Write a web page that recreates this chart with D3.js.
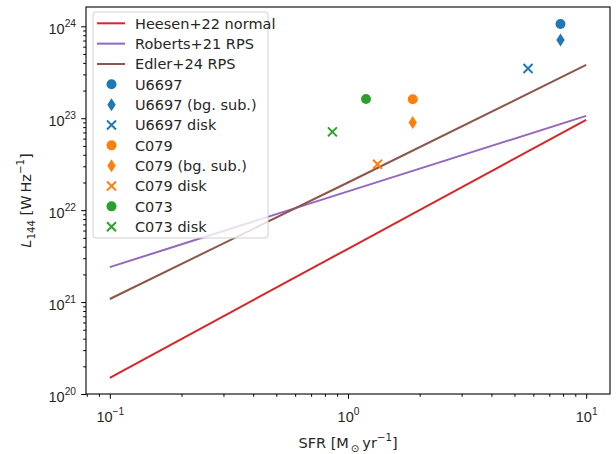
<!DOCTYPE html>
<html>
<head>
<meta charset="utf-8">
<script src="https://cdn.jsdelivr.net/npm/d3@7"></script>
<style>
  body { margin: 0; background: #fff; }
  svg { font-family: 'DejaVu Sans', sans-serif; }
</style>
</head>
<body>
<div id="chart"></div>
<script>
// ===== L144 vs SFR =====

// relations at SFR = 0.1, 1, 10
const lineSFR = [0.1, 1, 10];
const heesenL = [1.5e20, 3.8e21, 9.6e22];
const robertsL = [2.4e21, 1.6e22, 1.06e23];
const edlerL = [1.08e21, 2.0e22, 3.8e23];
const lineNames = ['Heesen+22 normal', 'Roberts+21 RPS', 'Edler+24 RPS'];

// galaxies: total, bg. sub., disk
const u6697SFR = [7.8, 7.8, 5.7];
const u6697L = [1.06e24, 7.1e23, 3.47e23];
const c079SFR = [1.87, 1.87, 1.33];
const c079L = [1.61e23, 9.0e22, 3.16e22];
// total, disk
const c073SFR = [1.19, 0.86];
const c073L = [1.62e23, 7.1e22];

const pointLabels = ['U6697', 'U6697 (bg. sub.)', 'U6697 disk',
                     'C079', 'C079 (bg. sub.)', 'C079 disk',
                     'C073', 'C073 disk'];

// ticks (labels are 10^exp)
const xTickExp = [-1, 0, 1];
const yTickExp = [20, 21, 22, 23, 24];

const width = 616, height = 454;
const margin = { top: 7, right: 6, bottom: 60, left: 86 };
const fontSize = '14.5px', supSize = '10.2px';

const colors = {
    red: '#d62728', purple: '#9467bd', brown: '#8c564b',
    blue: '#1f77b4', orange: '#ff7f0e', green: '#2ca02c'
};

const svg = d3.select('#chart').append('svg')
    .attr('width', width)
    .attr('height', height);

const x = d3.scaleLog()
    .domain([Math.pow(10, -1.1), Math.pow(10, 1.1)])
    .range([margin.left, width - margin.right]);

const y = d3.scaleLog()
    .domain([1e20, Math.pow(10, 24.21)])
    .range([height - margin.bottom, margin.top]);

const minorOf = (lo, hi) => {
    const out = [];
    for (let e = lo; e <= hi; e++) {
        for (let m = 2; m <= 9; m++) out.push(m * Math.pow(10, e));
    }
    return out;
};
const inside = (scale) => v => v >= scale.domain()[0] && v <= scale.domain()[1];

// mathtext-ish "10^n"
const powLabel = (sel, exp) => {
    sel.text(null);
    sel.append('tspan').text('10');
    sel.append('tspan')
        .attr('dy', -7)
        .style('font-size', supSize)
        .text(String(exp).replace('-', '\u2212'));
};

// --- axes ---
const xMinor = minorOf(-2, 1).filter(inside(x));
const yMinor = minorOf(19, 24).filter(inside(y));

const xAxisMinor = svg.append('g')
    .attr('transform', `translate(0,${height - margin.bottom})`)
    .call(d3.axisBottom(x).tickValues(xMinor).tickSize(2.8).tickFormat(''));
const xAxis = svg.append('g')
    .attr('transform', `translate(0,${height - margin.bottom})`)
    .call(d3.axisBottom(x).tickValues(xTickExp.map(e => Math.pow(10, e))).tickSize(4.8));
xAxis.selectAll('.tick text')
    .style('font-size', fontSize)
    .attr('fill', '#262626')
    .attr('y', 27.5)
    .attr('dy', 0)
    .each(function (d, i) { powLabel(d3.select(this), xTickExp[i]); });

const yAxisMinor = svg.append('g')
    .attr('transform', `translate(${margin.left},0)`)
    .call(d3.axisLeft(y).tickValues(yMinor).tickSize(2.8).tickFormat(''));
const yAxis = svg.append('g')
    .attr('transform', `translate(${margin.left},0)`)
    .call(d3.axisLeft(y).tickValues(yTickExp.map(e => Math.pow(10, e))).tickSize(4.8));
yAxis.selectAll('.tick text')
    .style('font-size', fontSize)
    .attr('fill', '#262626')
    .attr('x', -10)
    .attr('dy', 7.5)
    .attr('text-anchor', 'end')
    .each(function (d, i) { powLabel(d3.select(this), yTickExp[i]); });

[xAxisMinor, xAxis, yAxisMinor, yAxis].forEach(g => {
    g.select('.domain').remove();
    g.selectAll('.tick line').attr('stroke', '#000').attr('stroke-width', 1);
});

// frame
svg.append('rect')
    .attr('x', x.range()[0])
    .attr('y', y.range()[1])
    .attr('width', x.range()[1] - x.range()[0])
    .attr('height', y.range()[0] - y.range()[1])
    .attr('fill', 'none')
    .attr('stroke', '#000')
    .attr('stroke-width', 1.1);

// --- relations ---
const lineGen = d3.line().x(d => x(d[0])).y(d => y(d[1]));
const lineSeries = [
    { name: lineNames[0], color: colors.red, values: heesenL },
    { name: lineNames[1], color: colors.purple, values: robertsL },
    { name: lineNames[2], color: colors.brown, values: edlerL }
];
svg.append('g').selectAll('path')
    .data(lineSeries)
    .enter().append('path')
    .attr('d', s => lineGen(lineSFR.map((v, i) => [v, s.values[i]])))
    .attr('fill', 'none')
    .attr('stroke', s => s.color)
    .attr('stroke-width', 2);

// --- markers ---
const drawMarker = (g, kind, color) => {
    if (kind === 'o') {
        g.append('circle').attr('r', 5).attr('fill', color);
    } else if (kind === 'd') {
        g.append('path').attr('d', 'M0,-6.5L4.2,0L0,6.5L-4.2,0Z').attr('fill', color);
    } else {
        g.append('path').attr('d', 'M-4.5,-4.5L4.5,4.5M-4.5,4.5L4.5,-4.5')
            .attr('stroke', color).attr('stroke-width', 2).attr('fill', 'none');
    }
};

const points = [
    { sfr: u6697SFR[0], L: u6697L[0], kind: 'o', color: colors.blue },
    { sfr: u6697SFR[1], L: u6697L[1], kind: 'd', color: colors.blue },
    { sfr: u6697SFR[2], L: u6697L[2], kind: 'x', color: colors.blue },
    { sfr: c079SFR[0], L: c079L[0], kind: 'o', color: colors.orange },
    { sfr: c079SFR[1], L: c079L[1], kind: 'd', color: colors.orange },
    { sfr: c079SFR[2], L: c079L[2], kind: 'x', color: colors.orange },
    { sfr: c073SFR[0], L: c073L[0], kind: 'o', color: colors.green },
    { sfr: c073SFR[1], L: c073L[1], kind: 'x', color: colors.green }
];
points.forEach(p => {
    const g = svg.append('g').attr('transform', `translate(${x(p.sfr)},${y(p.L)})`);
    drawMarker(g, p.kind, p.color);
});

// --- legend ---
const legX = 93, legY = 12, legW = 175, legH = 226, rowH = 20.34;
const legend = svg.append('g').attr('transform', `translate(${legX},${legY})`);
legend.append('rect')
    .attr('width', legW).attr('height', legH)
    .attr('rx', 3)
    .attr('fill', '#fff').attr('fill-opacity', 0.8)
    .attr('stroke', '#d0d0d0');

const entries = lineSeries.map(s => ({ label: s.name, kind: 'line', color: s.color }))
    .concat(points.map((p, i) => ({ label: pointLabels[i], kind: p.kind, color: p.color })));

entries.forEach((e, i) => {
    const row = legend.append('g').attr('transform', `translate(0,${11.3 + i * rowH})`);
    if (e.kind === 'line') {
        row.append('line').attr('x1', 4).attr('x2', 32)
            .attr('stroke', e.color).attr('stroke-width', 2);
    } else {
        drawMarker(row.append('g').attr('transform', 'translate(18.5,0)'), e.kind, e.color);
    }
    row.append('text')
        .attr('x', 42).attr('y', 5.2)
        .style('font-size', fontSize)
        .attr('fill', '#262626')
        .text(e.label);
});

// --- axis labels ---
const xl = svg.append('text')
    .attr('x', (x.range()[0] + x.range()[1]) / 2)
    .attr('y', 448)
    .attr('text-anchor', 'middle')
    .style('font-size', fontSize)
    .attr('fill', '#262626');
xl.append('tspan').text('SFR [M');
xl.append('tspan').attr('dy', 3.5).style('font-size', supSize).text('\u2009\u2299');
xl.append('tspan').attr('dy', -3.5).text('\u2009yr');
xl.append('tspan').attr('dy', -7).style('font-size', supSize).text('\u22121');
xl.append('tspan').attr('dy', 7).text(']');

const yl = svg.append('text')
    .attr('transform', `translate(31,${(y.range()[0] + y.range()[1]) / 2}) rotate(-90)`)
    .attr('text-anchor', 'middle')
    .style('font-size', fontSize)
    .attr('fill', '#262626');
yl.append('tspan').style('font-style', 'italic').text('L');
yl.append('tspan').attr('dy', 3.5).style('font-size', supSize).text('144');
yl.append('tspan').attr('dy', -3.5).text(' [W\u2009Hz');
yl.append('tspan').attr('dy', -7).style('font-size', supSize).text('\u22121');
yl.append('tspan').attr('dy', 7).text(']');

console.log('chart rendered');
</script>
</body>
</html>
